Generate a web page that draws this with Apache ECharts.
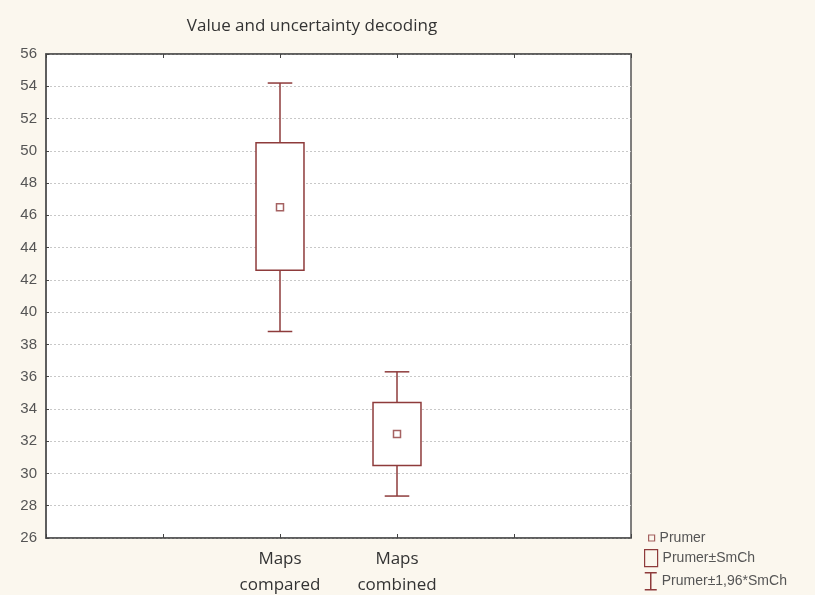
<!DOCTYPE html>
<html>
<head>
<meta charset="utf-8">
<script src="https://cdn.jsdelivr.net/npm/echarts@6/dist/echarts.min.js"></script>
<style>html,body{margin:0;padding:0;background:#fbf7ee;}#c{width:815px;height:595px;}</style>
</head>
<body>
<div id="c"></div>
<script>
// Axis categories (blank slots pad the axis like the original)
const axisCategories = ['', '', 'Maps\ncompared', 'Maps\ncombined', '', ''];
const groups = ['Maps\ncompared', 'Maps\ncombined'];
// Values
const meanValues = [46.5, 32.45];
const seLow = [42.6, 30.5];
const seHigh = [50.5, 34.4];
const ciLow = [38.8, 28.6];
const ciHigh = [54.2, 36.3];
const yTicks = { min: 26, max: 56, interval: 2 };

const MARK = '#8e3b3b';
const chart = echarts.init(document.getElementById('c'));

const boxData = groups.map((g, i) => [g, seLow[i], seHigh[i]]);
const whiskerData = groups.map((g, i) => [g, ciLow[i], seLow[i], seHigh[i], ciHigh[i]]);
const meanData = groups.map((g, i) => [g, meanValues[i]]);

const legendBase = {
  orient: 'vertical',
  left: 639,
  textStyle: { fontFamily: 'Liberation Sans', fontSize: 14, color: '#555' },
  selectedMode: false
};

chart.setOption({
  backgroundColor: '#fbf7ee',
  animation: false,
  title: {
    text: 'Value and uncertainty decoding',
    left: 307, top: 13, textAlign: 'center',
    textStyle: { fontFamily: 'Open Sans', fontSize: 17, fontWeight: 'normal', color: '#333' }
  },
  legend: [
    Object.assign({}, legendBase, {
      top: 526, left: 643, itemWidth: 6, itemHeight: 6,
      data: [{ name: 'Prumer', icon: 'rect', itemStyle: { color: 'rgba(0,0,0,0)', borderColor: MARK, borderWidth: 1.2 } }]
    }),
    Object.assign({}, legendBase, {
      top: 544, itemWidth: 13, itemHeight: 17,
      data: [{ name: 'Prumer±SmCh', icon: 'rect', itemStyle: { color: 'rgba(0,0,0,0)', borderColor: MARK, borderWidth: 1.2 } }]
    }),
    Object.assign({}, legendBase, {
      top: 567, itemWidth: 12, itemHeight: 17,
      data: [{ name: 'Prumer±1,96*SmCh', icon: 'path://M0 0H12M6 0V17M0 17H12', itemStyle: { color: 'rgba(0,0,0,0)', borderColor: MARK, borderWidth: 1.5 } }]
    })
  ],
  grid: {
    left: 46, top: 54, right: 184, bottom: 57,
    outerBoundsMode: 'none', containLabel: false,
    show: true, backgroundColor: '#ffffff', borderColor: '#555', borderWidth: 1.5
  },
  xAxis: [{
    type: 'category', data: axisCategories, boundaryGap: false,
    axisLine: { lineStyle: { color: '#555', width: 1.5 } },
    axisTick: { inside: true, length: 4, lineStyle: { color: '#444' }, interval: 0 },
    axisLabel: {
      interval: 0, margin: 8, fontFamily: 'Open Sans', fontSize: 17, color: '#333', lineHeight: 26,
      formatter: v => v
    },
    splitLine: { show: false }
  }, {
    type: 'category', data: axisCategories, boundaryGap: false, position: 'top',
    axisLine: { lineStyle: { color: '#555', width: 1.5 } },
    axisTick: { inside: true, length: 4, lineStyle: { color: '#444' }, interval: 0 },
    axisLabel: { show: false }
  }],
  yAxis: {
    type: 'value', min: yTicks.min, max: yTicks.max, interval: yTicks.interval,
    axisLine: { show: true, lineStyle: { color: '#555', width: 1.5 } },
    axisTick: { show: true, inside: true, length: 3, lineStyle: { color: '#444' } },
    axisLabel: { fontFamily: 'Liberation Sans', fontSize: 15, color: '#555', margin: 9 },
    splitLine: { show: true, lineStyle: { color: '#c8c8c8', type: [2, 2], width: 1 } }
  },
  series: [
    {
      name: 'Prumer±1,96*SmCh', type: 'custom', data: whiskerData,
      encode: { x: 0, y: [1, 2, 3, 4] },
      renderItem: function (params, api) {
        const x = api.value(0);
        const pLow = api.coord([x, api.value(1)]);
        const pBoxLow = api.coord([x, api.value(2)]);
        const pBoxHigh = api.coord([x, api.value(3)]);
        const pHigh = api.coord([x, api.value(4)]);
        const cap = api.size([1, 0])[0] * 0.21 / 2;
        const style = { stroke: MARK, lineWidth: 1.5, fill: null };
        return {
          type: 'group',
          children: [
            { type: 'line', shape: { x1: pHigh[0], y1: pHigh[1], x2: pBoxHigh[0], y2: pBoxHigh[1] }, style },
            { type: 'line', shape: { x1: pLow[0], y1: pLow[1], x2: pBoxLow[0], y2: pBoxLow[1] }, style },
            { type: 'line', shape: { x1: pHigh[0] - cap, y1: pHigh[1], x2: pHigh[0] + cap, y2: pHigh[1] }, style },
            { type: 'line', shape: { x1: pLow[0] - cap, y1: pLow[1], x2: pLow[0] + cap, y2: pLow[1] }, style }
          ]
        };
      },
      xAxisIndex: 0, z: 3
    },
    {
      name: 'Prumer±SmCh', type: 'custom', data: boxData,
      encode: { x: 0, y: [1, 2] },
      renderItem: function (params, api) {
        const x = api.value(0);
        const pLow = api.coord([x, api.value(1)]);
        const pHigh = api.coord([x, api.value(2)]);
        const w = api.size([1, 0])[0] * 0.41;
        return {
          type: 'rect',
          shape: { x: pLow[0] - w / 2, y: pHigh[1], width: w, height: pLow[1] - pHigh[1] },
          style: { stroke: MARK, lineWidth: 1.5, fill: '#ffffff' }
        };
      },
      xAxisIndex: 0, z: 4
    },
    {
      name: 'Prumer', type: 'scatter', data: meanData,
      symbol: 'rect', symbolSize: 7,
      itemStyle: { color: '#ffffff', borderColor: MARK, borderWidth: 1.5 },
      xAxisIndex: 0, z: 5
    }
  ]
});
</script>
</body>
</html>
